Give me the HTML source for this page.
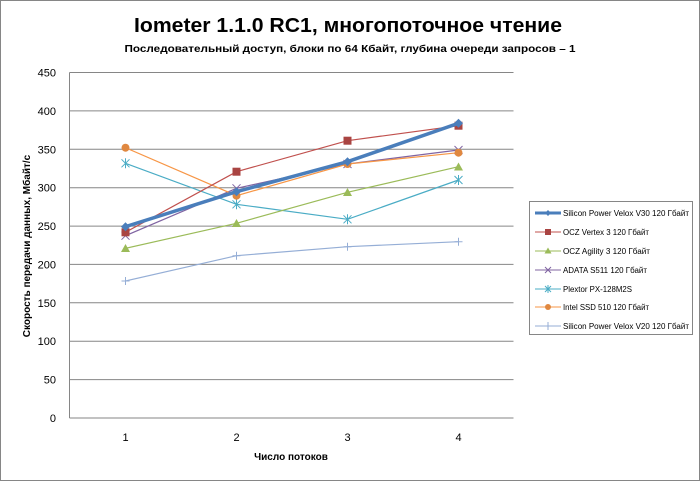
<!DOCTYPE html>
<html><head><meta charset="utf-8"><style>
html,body{margin:0;padding:0;background:#fff;}
svg{display:block;font-family:"Liberation Sans","DejaVu Sans",sans-serif;}
</style></head><body>
<svg width="700" height="481" viewBox="0 0 700 481" xmlns="http://www.w3.org/2000/svg">
<rect x="0.5" y="0.5" width="699" height="480" fill="#fff" stroke="#868686"/>
<text x="348" y="32" text-anchor="middle" font-size="20" font-weight="bold" textLength="428" lengthAdjust="spacingAndGlyphs">Iometer 1.1.0 RC1, многопоточное чтение</text>
<text x="350" y="52" text-anchor="middle" font-size="10" font-weight="bold" textLength="451" lengthAdjust="spacingAndGlyphs">Последовательный  доступ, блоки  по 64 Кбайт,  глубина очереди запросов  – 1</text>
<g stroke="#868686" stroke-width="1">
<line x1="69.5" y1="72.5" x2="513.5" y2="72.5"/>
<line x1="69.5" y1="110.9" x2="513.5" y2="110.9"/>
<line x1="69.5" y1="149.3" x2="513.5" y2="149.3"/>
<line x1="69.5" y1="187.7" x2="513.5" y2="187.7"/>
<line x1="69.5" y1="226.1" x2="513.5" y2="226.1"/>
<line x1="69.5" y1="264.4" x2="513.5" y2="264.4"/>
<line x1="69.5" y1="302.8" x2="513.5" y2="302.8"/>
<line x1="69.5" y1="341.2" x2="513.5" y2="341.2"/>
<line x1="69.5" y1="379.6" x2="513.5" y2="379.6"/>
<line x1="69.5" y1="418" x2="513.5" y2="418"/>
<line x1="69.5" y1="72.5" x2="69.5" y2="418"/>
</g>
<g font-size="11" text-anchor="end" fill="#000">
<text x="56" y="76.5">450</text><text x="56" y="115">400</text><text x="56" y="153.3">350</text>
<text x="56" y="191.7">300</text><text x="56" y="230">250</text><text x="56" y="268.4">200</text>
<text x="56" y="306.8">150</text><text x="56" y="345.2">100</text><text x="56" y="383.6">50</text><text x="56" y="422">0</text>
</g>
<g font-size="11" text-anchor="middle">
<text x="125.5" y="441">1</text><text x="236.5" y="441">2</text><text x="347.5" y="441">3</text><text x="458.5" y="441">4</text>
</g>
<text x="291" y="460" text-anchor="middle" font-size="10" font-weight="bold">Число  потоков</text>
<text transform="translate(30,246) rotate(-90)" text-anchor="middle" font-size="10" font-weight="bold">Скорость  передачи данных, Мбайт/с</text>
<polyline points="125.5,281 236.5,255.7 347.5,246.7 458.5,241.7" fill="none" stroke="#95aed6" stroke-width="1.2"/>
<g stroke="#95aed6" stroke-width="1"><path d="M121.5,281h8M125.5,277v8M232.5,255.7h8M236.5,251.7v8M343.5,246.7h8M347.5,242.7v8M454.5,241.7h8M458.5,237.7v8"/></g>
<polyline points="125.5,163.3 236.5,204.3 347.5,219.3 458.5,180" fill="none" stroke="#4aacc5" stroke-width="1.2"/>
<g stroke="#4aacc5" stroke-width="1"><path d="M121.5,159.3l8,8M129.5,159.3l-8,8M125.5,158.3v10M232.5,200.3l8,8M240.5,200.3l-8,8M236.5,199.3v10M343.5,215.3l8,8M351.5,215.3l-8,8M347.5,214.3v10M454.5,176l8,8M462.5,176l-8,8M458.5,175v10"/></g>
<polyline points="125.5,248.3 236.5,223.3 347.5,192.3 458.5,166.7" fill="none" stroke="#9bbb59" stroke-width="1.2"/>
<g fill="#9bbb59"><path d="M125.5,244l4.5,8h-9z"/><path d="M236.5,219l4.5,8h-9z"/><path d="M347.5,188l4.5,8h-9z"/><path d="M458.5,162.5l4.5,8h-9z"/></g>
<polyline points="125.5,235.7 236.5,188.3 347.5,164 458.5,150" fill="none" stroke="#8064a2" stroke-width="1.2"/>
<g stroke="#8064a2" stroke-width="1"><path d="M121.5,231.7l8,8M129.5,231.7l-8,8M232.5,184.3l8,8M240.5,184.3l-8,8M343.5,160l8,8M351.5,160l-8,8M454.5,146l8,8M462.5,146l-8,8"/></g>
<polyline points="125.5,147.7 236.5,195.7 347.5,164 458.5,152.7" fill="none" stroke="#f79646" stroke-width="1.2"/>
<g fill="#e08840"><circle cx="125.5" cy="147.7" r="4"/><circle cx="236.5" cy="195.7" r="4"/><circle cx="347.5" cy="164" r="4"/><circle cx="458.5" cy="152.7" r="4"/></g>
<polyline points="125.5,232.3 236.5,171.7 347.5,140.7 458.5,125.7" fill="none" stroke="#c0504d" stroke-width="1.2"/>
<g fill="#a94442"><rect x="121.5" y="228.3" width="8" height="8"/><rect x="232.5" y="167.7" width="8" height="8"/><rect x="343.5" y="136.7" width="8" height="8"/><rect x="454.5" y="121.7" width="8" height="8"/></g>
<polyline points="125.5,226.7 236.5,191.7 347.5,161.7 458.5,123.3" fill="none" stroke="#4a7ebb" stroke-width="3.5"/>
<g fill="#4a7ebb"><path d="M125.5,222.2l4.5,4.5l-4.5,4.5l-4.5,-4.5z"/><path d="M236.5,187.2l4.5,4.5l-4.5,4.5l-4.5,-4.5z"/><path d="M347.5,157.2l4.5,4.5l-4.5,4.5l-4.5,-4.5z"/><path d="M458.5,118.8l4.5,4.5l-4.5,4.5l-4.5,-4.5z"/></g>
<rect x="529.5" y="201.5" width="163" height="133" fill="#fff" stroke="#868686"/>
<g font-size="8">
<line x1="535" y1="213" x2="561" y2="213" stroke="#4a7ebb" stroke-width="3"/><path d="M548,210l3,3l-3,3l-3,-3z" fill="#4a7ebb"/>
<text x="563" y="215.8" textLength="126" lengthAdjust="spacingAndGlyphs">Silicon Power Velox V30 120 Гбайт</text>
<line x1="535" y1="232" x2="561" y2="232" stroke="#c0504d"/><rect x="545" y="229" width="6" height="6" fill="#a94442"/>
<text x="563" y="234.8" textLength="86" lengthAdjust="spacingAndGlyphs">OCZ Vertex 3 120 Гбайт</text>
<line x1="535" y1="251" x2="561" y2="251" stroke="#9bbb59"/><path d="M548,247.5l3.5,6h-7z" fill="#9bbb59"/>
<text x="563" y="253.8" textLength="87" lengthAdjust="spacingAndGlyphs">OCZ Agility 3 120 Гбайт</text>
<line x1="535" y1="270" x2="561" y2="270" stroke="#8064a2"/><path d="M545,267l6,6M551,267l-6,6" stroke="#8064a2"/>
<text x="563" y="272.8" textLength="84" lengthAdjust="spacingAndGlyphs">ADATA S511 120 Гбайт</text>
<line x1="535" y1="289" x2="561" y2="289" stroke="#4aacc5"/><path d="M545,286l6,6M551,286l-6,6M548,285v8" stroke="#4aacc5"/>
<text x="563" y="291.8" textLength="69" lengthAdjust="spacingAndGlyphs">Plextor PX-128M2S</text>
<line x1="535" y1="307" x2="561" y2="307" stroke="#f79646"/><circle cx="548" cy="307" r="3" fill="#e08840"/>
<text x="563" y="309.8" textLength="86" lengthAdjust="spacingAndGlyphs">Intel SSD 510 120 Гбайт</text>
<line x1="535" y1="326" x2="561" y2="326" stroke="#95aed6"/><path d="M548,322v8" stroke="#95aed6"/>
<text x="563" y="328.8" textLength="126" lengthAdjust="spacingAndGlyphs">Silicon Power Velox V20 120 Гбайт</text>
</g>
</svg>
</body></html>
